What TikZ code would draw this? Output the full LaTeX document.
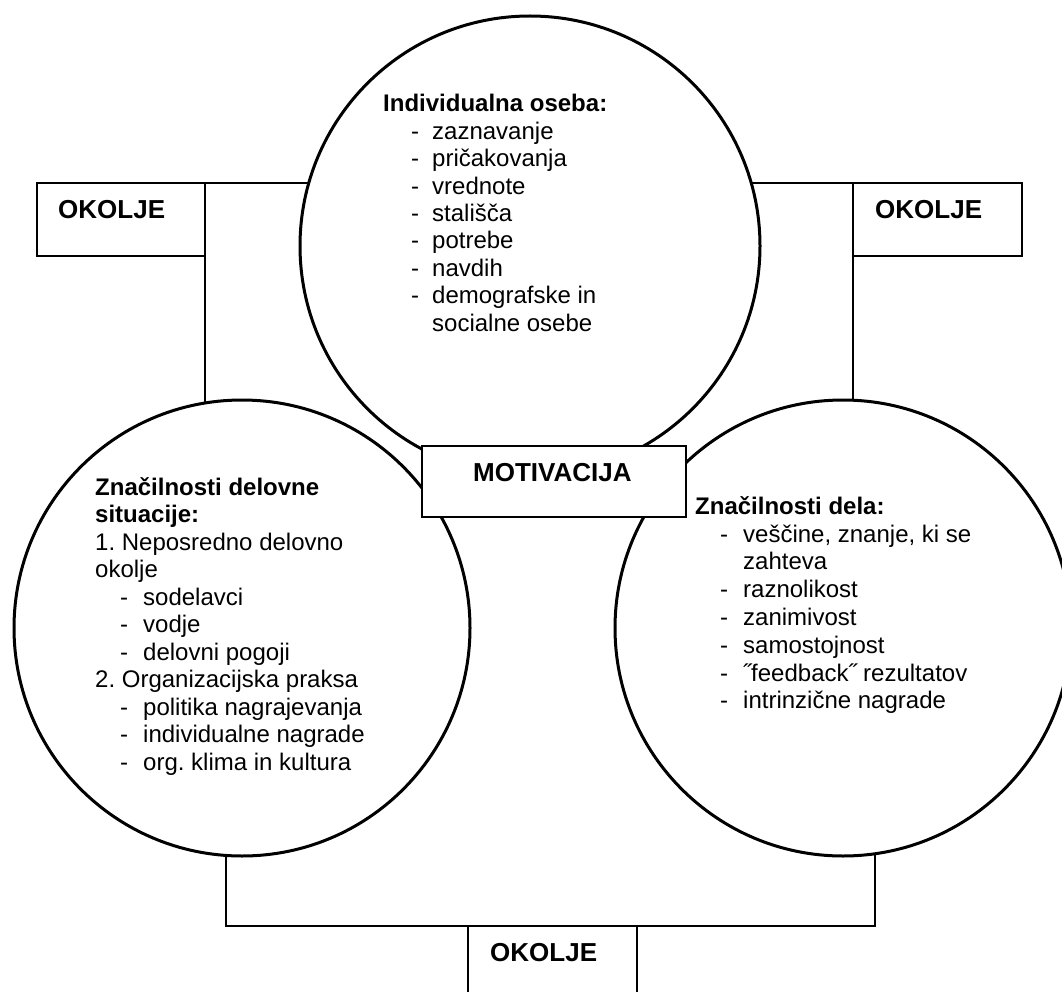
\documentclass[tikz,border=0pt]{standalone}
\usepackage{fontspec}
\setmainfont{Liberation Sans}
\frenchspacing
\begin{document}
\begin{tikzpicture}[x=1pt,y=-1pt,
  circ/.style={circle, draw, line width=3pt, fill=white, inner sep=0pt, outer sep=0pt},
  envbox/.style={rectangle, draw, line width=1.6pt, fill=white, inner sep=0pt, outer sep=0pt},
  link/.style={line width=1.6pt},
  lbl/.style={anchor=base west, inner sep=0pt, font=\fontsize{26}{30}\selectfont\bfseries},
  hdr/.style={anchor=base west, inner sep=0pt, font=\fontsize{24}{27.5}\selectfont\bfseries},
  txt/.style={anchor=base west, inner sep=0pt, font=\fontsize{24}{27.5}\selectfont}]
\useasboundingbox (0,0) rectangle (1062,992);

% three circles
\node[circ, minimum size=460pt] (top) at (530,246) {};
\node[circ, minimum size=456pt] (lc) at (242,628) {};
\node[circ, minimum size=456pt] (rc) at (843,628) {};

% environment boxes
\node[envbox, minimum width=168pt, minimum height=73pt] (okl) at (121,219.5) {};
\node[envbox, minimum width=169pt, minimum height=73pt] (okr) at (937.5,219.5) {};
\node[envbox, minimum width=169pt, minimum height=73pt] (okb) at (552.5,962.5) {};
\node[envbox, minimum width=264pt, minimum height=71pt] (mot) at (554,481.5) {};

% connectors, kept strictly horizontal and vertical
\draw[link] (okl.north east) -- (okl.north east -| top.164);
\draw[link] (okr.north west) -- (okr.north west -| top.16);
\draw[link] (okl.south east) -- (okl.south east |- lc.99);
\draw[link] (okr.south west) -- (okr.south west |- rc.87.5);
\draw[link] (lc.266.7) |- (okb.north west);
\draw[link] (rc.278.6) |- (okb.north east);

% box labels
\node[lbl] (okltxt) at (58,219) {OKOLJE};
\node[lbl] (okrtxt) at (875,219) {OKOLJE};
\node[lbl] (okbtxt) at (490,961) {OKOLJE};
\node[lbl] (mottxt) at (473,481) {MOTIVACIJA};

% individual person
\node[hdr] (ih) at (383,112) {Individualna oseba:};
\foreach \t [count=\i] in {zaznavanje, pričakovanja, vrednote, stališča, potrebe, navdih, demografske in}{
  \node[txt] (id\i) at (411,{112+27.4*\i}) {-};
  \node[txt] (it\i) at (432,{112+27.4*\i}) {\t};
}
\node[txt] (it8) at (432,{112+27.4*8}) {socialne osebe};

% work situation
\node[hdr] (wh1) at (95,495) {Značilnosti delovne};
\node[hdr] (wh2) at (95,522.5) {situacije:};
\node[txt] (wn1) at (95,550) {1. Neposredno delovno};
\node[txt] (wn1b) at (95,577.5) {okolje};
\foreach \t [count=\i] in {sodelavci, vodje, delovni pogoji}{
  \node[txt] (wd\i) at (120,{577.5+27.5*\i}) {-};
  \node[txt] (wt\i) at (143,{577.5+27.5*\i}) {\t};
}
\node[txt] (wn2) at (95,687.5) {2. Organizacijska praksa};
\foreach \t [count=\i] in {politika nagrajevanja, individualne nagrade, org. klima in kultura}{
  \node[txt] (wp\i) at (120,{687.5+27.5*\i}) {-};
  \node[txt] (wq\i) at (143,{687.5+27.5*\i}) {\t};
}

% job characteristics
\node[hdr] (jh) at (695,514) {Značilnosti dela:};
\node[txt] (jd1) at (720,542) {-};
\node[txt] (jt1) at (743,542) {veščine, znanje, ki se};
\node[txt] (jt1b) at (743,569.8) {zahteva};
\foreach \t [count=\i from 2] in {raznolikost, zanimivost, samostojnost, ˝feedback˝ rezultatov, intrinzične nagrade}{
  \node[txt] (jd\i) at (720,{542+27.8*\i}) {-};
  \node[txt] (jt\i) at (743,{542+27.8*\i}) {\t};
}
\end{tikzpicture}
\end{document}
